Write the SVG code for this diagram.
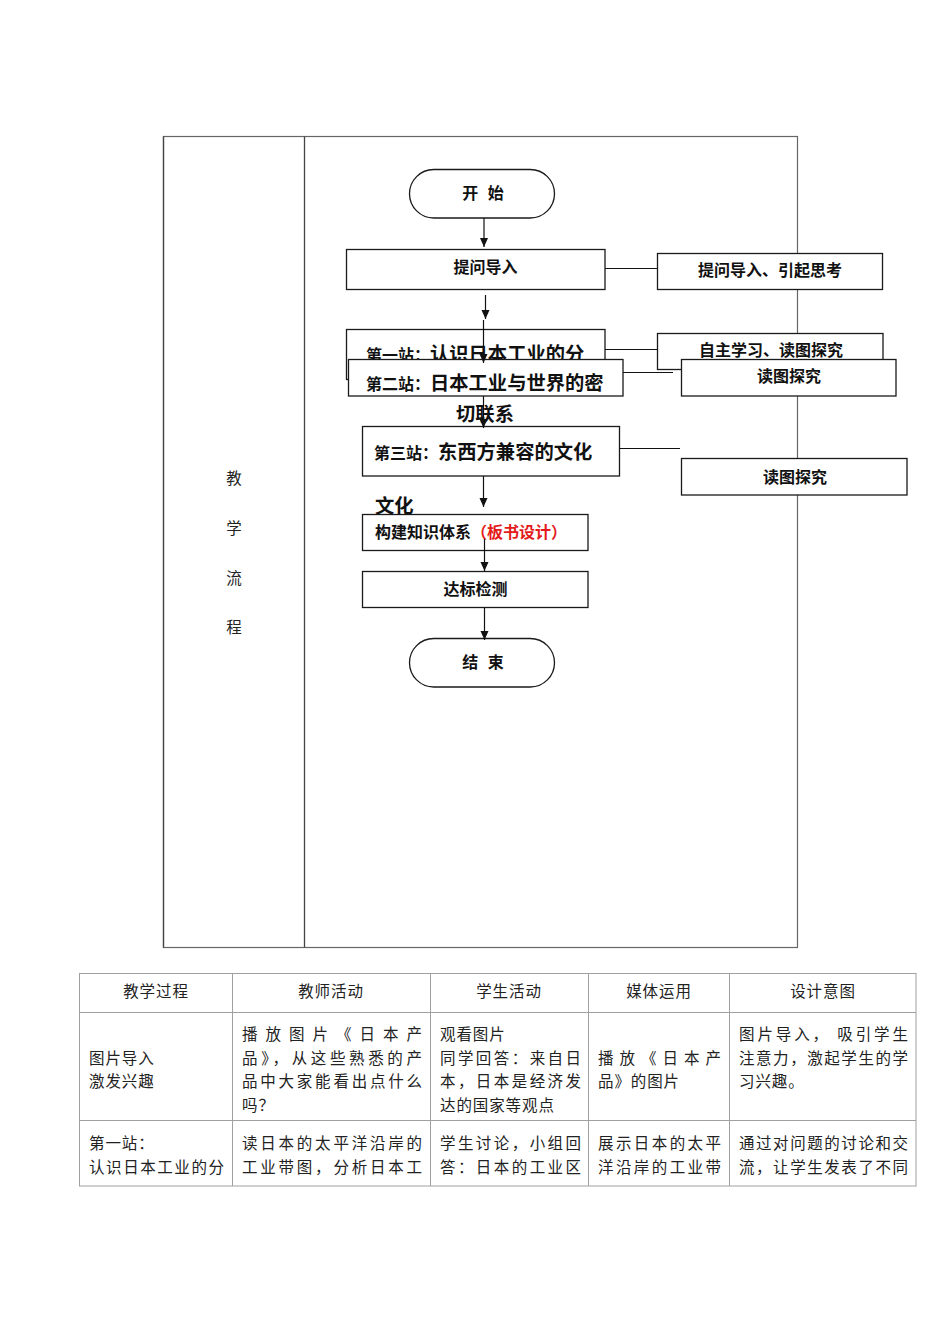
<svg xmlns="http://www.w3.org/2000/svg" width="950" height="1344" viewBox="0 0 950 1344">
<style>
.bx{fill:#fff;stroke:#1a1a1a;stroke-width:1.3}
.fl{font-family:"Noto Sans CJK SC","Liberation Sans",sans-serif;font-weight:bold;fill:#111}
.s{font-size:16px}
.l{font-size:19.3px}
.ws{word-spacing:6px}
.cn{stroke:#111;stroke-width:1.2;fill:none}
.tb{font-family:"Noto Sans CJK SC","Liberation Sans",sans-serif;font-size:15.5px;fill:#222}
.ls{letter-spacing:0.9px}
.grid{stroke:#a0a0a0;stroke-width:1;fill:none}
.frame{stroke:#666;stroke-width:1.2;fill:none}
</style>
<defs>
<marker id="ah" markerWidth="10" markerHeight="10" refX="9" refY="5" orient="auto" markerUnits="userSpaceOnUse">
<path d="M0,1 L9,5 L0,9 z" fill="#111"/>
</marker>
</defs>
<rect width="950" height="1344" fill="#fff"/>

<g id="frame">
<rect x="163.5" y="136.5" width="634" height="811" class="frame"/>
<line x1="304.5" y1="136.5" x2="304.5" y2="947.5" stroke="#444" stroke-width="1.3"/>
<line x1="163.5" y1="136.5" x2="163.5" y2="947.5" stroke="#444" stroke-width="1.3"/>
<g class="tb" text-anchor="middle">
<text x="234" y="484">教</text>
<text x="234" y="534">学</text>
<text x="234" y="584">流</text>
<text x="234" y="633">程</text>
</g>
</g>

<g id="n-start">
<rect x="409.5" y="169.5" width="145" height="48.5" rx="24.25" class="bx"/>
<text x="483" y="199" class="fl s ws" text-anchor="middle">开 始</text>
</g>
<g id="n-q">
<rect x="346.5" y="249.5" width="258.5" height="40" class="bx"/>
<text x="485.5" y="273" class="fl s" text-anchor="middle">提问导入</text>
</g>
<g id="n-q2">
<rect x="657.5" y="253.5" width="225" height="36" class="bx"/>
<text x="770" y="276" class="fl s" text-anchor="middle">提问导入、引起思考</text>
</g>
<g id="n-s1">
<rect x="346.5" y="329.5" width="258.5" height="50" class="bx"/>
<text x="366" y="361" class="fl"><tspan class="s">第一站：</tspan><tspan class="l">认识日本工业的分</tspan></text>
</g>
<g id="n-r1">
<rect x="657.5" y="333.5" width="225.5" height="36" class="bx"/>
<text x="771" y="356" class="fl s" text-anchor="middle">自主学习、读图探究</text>
</g>
<g id="n-s2">
<rect x="348.5" y="359.5" width="274.5" height="36.5" class="bx"/>
<text x="366" y="390" class="fl"><tspan class="s">第二站：</tspan><tspan class="l">日本工业与世界的密</tspan></text>
<text x="485" y="421" class="fl l" text-anchor="middle">切联系</text>
</g>
<g id="n-r2">
<rect x="681.5" y="359.5" width="214.5" height="36.5" class="bx"/>
<text x="789" y="382" class="fl s" text-anchor="middle">读图探究</text>
</g>
<g id="n-s3">
<rect x="362.5" y="426.5" width="257" height="49.5" class="bx"/>
<text x="374" y="459" class="fl"><tspan class="s">第三站：</tspan><tspan class="l">东西方兼容的文化</tspan></text>
<text x="375" y="513" class="fl l">文化</text>
</g>
<g id="n-r3">
<rect x="681.5" y="458.5" width="225.5" height="36.5" class="bx"/>
<text x="795" y="483" class="fl s" text-anchor="middle">读图探究</text>
</g>
<g id="n-build">
<rect x="362.5" y="514.5" width="225.5" height="36" class="bx"/>
<text x="375" y="538" class="fl s">构建知识体系<tspan fill="#e41b1b">（板书设计）</tspan></text>
</g>
<g id="n-test">
<rect x="362.5" y="571.5" width="225.5" height="36" class="bx"/>
<text x="475.5" y="595" class="fl s" text-anchor="middle">达标检测</text>
</g>
<g id="n-end">
<rect x="409.5" y="638.5" width="145" height="48.5" rx="24.25" class="bx"/>
<text x="483" y="668" class="fl s ws" text-anchor="middle">结 束</text>
</g>

<g id="connectors">
<line x1="484" y1="218" x2="484" y2="247" class="cn" marker-end="url(#ah)"/>
<line x1="485.5" y1="295" x2="485.5" y2="319" class="cn" marker-end="url(#ah)"/>
<line x1="483.5" y1="320" x2="483.5" y2="363" class="cn" marker-end="url(#ah)"/>
<line x1="483.5" y1="396" x2="483.5" y2="428" class="cn" marker-end="url(#ah)"/>
<line x1="483.5" y1="476" x2="483.5" y2="507" class="cn" marker-end="url(#ah)"/>
<line x1="484.5" y1="539" x2="484.5" y2="571" class="cn" marker-end="url(#ah)"/>
<line x1="484.5" y1="608" x2="484.5" y2="640" class="cn" marker-end="url(#ah)"/>
<line x1="605" y1="268.5" x2="657.5" y2="268.5" class="cn"/>
<line x1="605" y1="349.5" x2="657.5" y2="349.5" class="cn"/>
<line x1="623" y1="372.5" x2="673" y2="372.5" class="cn"/>
<line x1="619.5" y1="448.5" x2="680" y2="448.5" class="cn"/>
</g>

<g id="table">
<rect x="79.5" y="973.5" width="836.5" height="212.5" class="grid"/>
<line x1="79.5" y1="1012.5" x2="916" y2="1012.5" class="grid"/>
<line x1="79.5" y1="1120.5" x2="916" y2="1120.5" class="grid"/>
<line x1="232.5" y1="973.5" x2="232.5" y2="1186" class="grid"/>
<line x1="430.5" y1="973.5" x2="430.5" y2="1186" class="grid"/>
<line x1="588.5" y1="973.5" x2="588.5" y2="1186" class="grid"/>
<line x1="729.5" y1="973.5" x2="729.5" y2="1186" class="grid"/>
<g class="tb ls" text-anchor="middle">
<text x="156" y="997">教学过程</text>
<text x="331" y="997">教师活动</text>
<text x="509" y="997">学生活动</text>
<text x="659" y="997">媒体运用</text>
<text x="823" y="997">设计意图</text>
</g>
<g class="tb">
<text x="89" y="1064" class="ls">图片导入</text>
<text x="89" y="1087" class="ls">激发兴趣</text>
<text x="242" y="1040" textLength="180" lengthAdjust="spacing">播放图片《日本产</text>
<text x="242" y="1064" textLength="180" lengthAdjust="spacing">品》，从这些熟悉的产</text>
<text x="242" y="1087" textLength="180" lengthAdjust="spacing">品中大家能看出点什么</text>
<text x="242" y="1111" class="ls">吗？</text>
<text x="440" y="1040" class="ls">观看图片</text>
<text x="440" y="1064" textLength="141" lengthAdjust="spacing">同学回答：来自日</text>
<text x="440" y="1087" textLength="141" lengthAdjust="spacing">本，日本是经济发</text>
<text x="440" y="1111" class="ls">达的国家等观点</text>
<text x="598" y="1064" textLength="123" lengthAdjust="spacing">播放《日本产</text>
<text x="598" y="1087" class="ls">品》的图片</text>
<text x="739" y="1040" textLength="169" lengthAdjust="spacing">图片导入， 吸引学生</text>
<text x="739" y="1064" textLength="169" lengthAdjust="spacing">注意力，激起学生的学</text>
<text x="739" y="1087" class="ls">习兴趣。</text>
<text x="89" y="1149" class="ls">第一站：</text>
<text x="89" y="1173" textLength="135" lengthAdjust="spacing">认识日本工业的分</text>
<text x="242" y="1149" textLength="180" lengthAdjust="spacing">读日本的太平洋沿岸的</text>
<text x="242" y="1173" textLength="180" lengthAdjust="spacing">工业带图，分析日本工</text>
<text x="440" y="1149" textLength="141" lengthAdjust="spacing">学生讨论，小组回</text>
<text x="440" y="1173" textLength="141" lengthAdjust="spacing">答：日本的工业区</text>
<text x="598" y="1149" textLength="123" lengthAdjust="spacing">展示日本的太平</text>
<text x="598" y="1173" textLength="123" lengthAdjust="spacing">洋沿岸的工业带</text>
<text x="739" y="1149" textLength="169" lengthAdjust="spacing">通过对问题的讨论和交</text>
<text x="739" y="1173" textLength="169" lengthAdjust="spacing">流，让学生发表了不同</text>
</g>
</g>
</svg>
